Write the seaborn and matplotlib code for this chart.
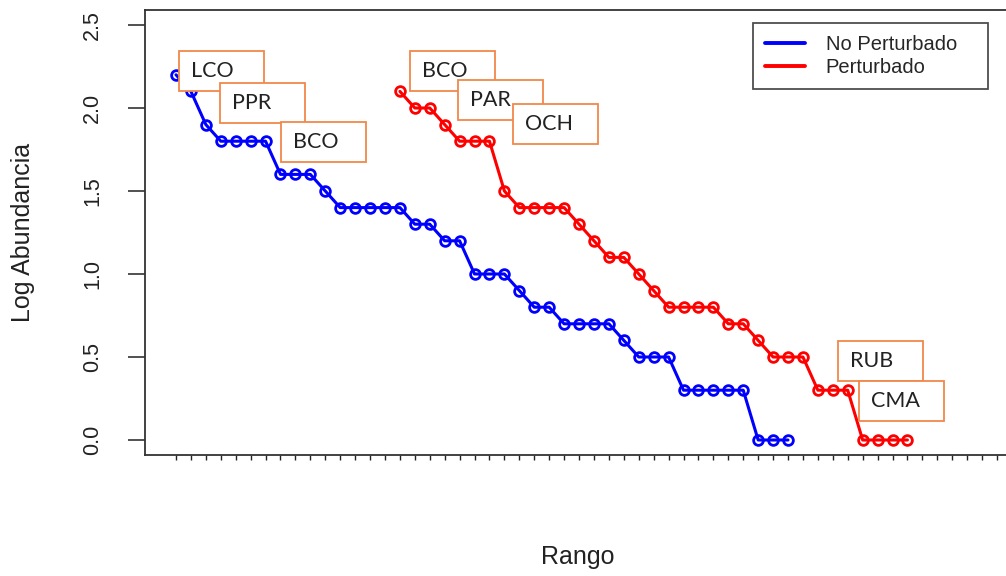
import numpy as np
import pandas as pd
import matplotlib
matplotlib.use("Agg")
import matplotlib.pyplot as plt
from matplotlib.patches import Rectangle
from matplotlib.lines import Line2D
import seaborn as sns

# ---------------- data ----------------
no_pert_rango = list(range(1, 43))
no_pert_log = [2.2, 2.1, 1.9, 1.8, 1.8, 1.8, 1.8, 1.6, 1.6, 1.6, 1.5,
               1.4, 1.4, 1.4, 1.4, 1.4, 1.3, 1.3, 1.2, 1.2, 1.0, 1.0, 1.0,
               0.9, 0.8, 0.8, 0.7, 0.7, 0.7, 0.7, 0.6, 0.5, 0.5, 0.5,
               0.3, 0.3, 0.3, 0.3, 0.3, 0.0, 0.0, 0.0]
pert_rango = list(range(16, 51))
pert_log = [2.1, 2.0, 2.0, 1.9, 1.8, 1.8, 1.8, 1.5, 1.4, 1.4, 1.4, 1.4,
            1.3, 1.2, 1.1, 1.1, 1.0, 0.9, 0.8, 0.8, 0.8, 0.8, 0.7, 0.7,
            0.6, 0.5, 0.5, 0.5, 0.3, 0.3, 0.3, 0.0, 0.0, 0.0, 0.0]
series_names = ["No Perturbado", "Perturbado"]
series_colors = ["#0000FF", "#FF0000"]
x_ticks = list(range(1, 57))
y_ticks = [0.0, 0.5, 1.0, 1.5, 2.0, 2.5]
y_tick_labels = ["0.0", "0.5", "1.0", "1.5", "2.0", "2.5"]

ann_labels = ["LCO", "PPR", "BCO", "BCO", "PAR", "OCH", "RUB", "CMA"]
ann_x = [1.2, 3.95, 8.03, 16.67, 19.89, 23.57, 45.34, 46.75]
ann_y = [2.102, 1.91, 1.675, 2.102, 1.928, 1.783, 0.355, 0.114]

df = pd.DataFrame({
    "Rango": no_pert_rango + pert_rango,
    "LogAbund": no_pert_log + pert_log,
    "Grupo": [series_names[0]] * len(no_pert_rango) + [series_names[1]] * len(pert_rango),
})

# ---------------- figure ----------------
sns.set_theme(style="ticks")
plt.rcParams["font.family"] = ["Liberation Sans", "DejaVu Sans"]

fig = plt.figure(figsize=(10.06, 5.76), dpi=100)
ax = fig.add_axes([145 / 1006, 121 / 576, 861 / 1006, 445 / 576])

sns.lineplot(data=df, x="Rango", y="LogAbund", hue="Grupo",
             palette=dict(zip(series_names, series_colors)),
             estimator=None, sort=False, ax=ax, legend=False,
             linewidth=2.2, marker="o", markersize=7,
             markerfacecolor="none", markeredgewidth=2.0)
for line in ax.lines:
    line.set_markeredgecolor(line.get_color())

ax.set_xlim(1 - 31 / 14.927, 56 + 9 / 14.927)
ax.set_ylim(-15 / 166, 2.5 + 15 / 166)

ax.set_xticks(x_ticks)
ax.set_xticklabels([])
ax.tick_params(axis="x", length=3.8, width=1.0, color="#222222", direction="out")
ax.set_yticks(y_ticks)
ax.set_yticklabels(y_tick_labels, rotation=90, va="center", fontsize=15.5, color="#222222")
ax.tick_params(axis="y", length=12, width=1.2, color="#333333", pad=18)

for s in ["left", "bottom", "top"]:
    ax.spines[s].set_visible(True)
    ax.spines[s].set_color("#333333")
    ax.spines[s].set_linewidth(1.3)
ax.spines["right"].set_visible(False)

ax.set_xlabel("Rango", fontsize=18, color="#222222")
ax.set_ylabel("Log Abundancia", fontsize=18, color="#222222")
ax.xaxis.set_label_coords((578 - 145) / 861, (455 - 557) / 445)
ax.xaxis.label.set_va("center")
ax.yaxis.set_label_coords((23 - 145) / 861, (455 - 232) / 445)
ax.yaxis.label.set_va("center")

# annotation boxes
box_w = 85 / 14.927
box_h = 40 / 166
for i, (lab, x0, y0) in enumerate(zip(ann_labels, ann_x, ann_y)):
    ax.add_patch(Rectangle((x0, y0), box_w, box_h, facecolor="white",
                           edgecolor="#F0884A", linewidth=1.3, zorder=10 + i))
    ax.annotate(lab, xy=(x0, y0 + box_h / 2), xytext=(8.6, 0),
                textcoords="offset points", va="center", ha="left",
                fontsize=15.5, family=["Lato", "DejaVu Sans"], color="#222222",
                zorder=10 + i)

# legend
handles = [Line2D([0], [0], color=c, lw=2.8) for c in series_colors]
leg = ax.legend(handles, series_names, loc="upper left",
                bbox_to_anchor=(753 / 1006, 1 - 89 / 576, 235 / 1006, 66 / 576),
                bbox_transform=fig.transFigure, mode="expand",
                fontsize=14.5, frameon=True, fancybox=False,
                handlelength=2.0, handletextpad=1.0, labelspacing=0.2,
                borderpad=0.6, borderaxespad=0)
leg.get_frame().set_edgecolor("#222222")
leg.get_frame().set_linewidth(1.3)
leg.set_zorder(20)

fig.savefig("out.png", dpi=100)
